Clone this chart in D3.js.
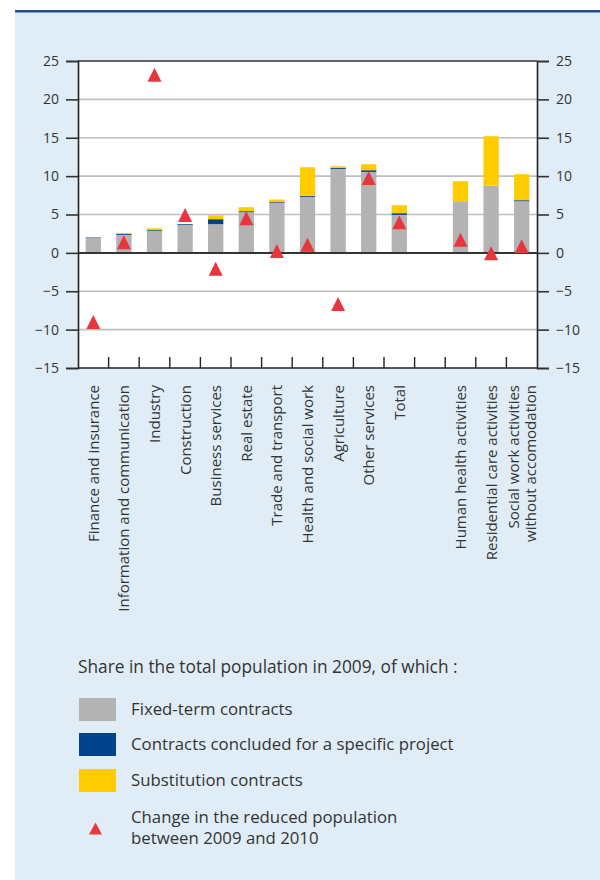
<!DOCTYPE html>
<html><head><meta charset="utf-8">
<script src="https://cdn.jsdelivr.net/npm/d3@7"></script>
<style>
html,body{margin:0;padding:0;background:#fff;}
svg{display:block;font-family:"Open Sans",sans-serif;}
</style></head>
<body>
<svg id="chart" width="600" height="880"></svg>
<script>
// ---- data ----
const categories = ["Finance and insurance","Information and communication","Industry","Construction","Business services","Real estate","Trade and transport","Health and social work","Agriculture","Other services","Total","Human health activities","Residential care activities","Social work activities\nwithout accomodation"];
const fixedTerm    = [2.0, 2.35, 2.87, 3.65, 3.74, 5.3, 6.51, 7.3, 10.94, 10.55, 4.95, 6.73, 8.77, 6.73];
const project      = [0.05, 0.15, 0.1, 0.1, 0.65, 0.13, 0.1, 0.13, 0.13, 0.22, 0.22, 0.0, 0.0, 0.13];
const substitution = [0.0, 0.1, 0.23, 0.0, 0.52, 0.52, 0.34, 3.73, 0.22, 0.78, 1.04, 2.61, 6.43, 3.39];
const change       = [-9.0, 1.4, 23.2, 4.93, -2.08, 4.52, 0.24, 1.05, -6.66, 9.75, 4.0, 1.7, -0.04, 0.85];
const yTicks = [-15, -10, -5, 0, 5, 10, 15, 20, 25];
const seriesNames = ["Fixed-term contracts","Contracts concluded for a specific project","Substitution contracts"];
const markerName = ["Change in the reduced population","between 2009 and 2010"];
const legendTitle = "Share in the total population in 2009, of which :";
const colors = ["#b3b3b3","#00438a","#ffcc00"];
const red = "#e8363d";

// ---- layout ----
const svg = d3.select("#chart");
svg.append("rect").attr("x",15).attr("y",12).attr("width",585).attr("height",868).attr("fill","#e0edf6");
svg.append("rect").attr("x",15).attr("y",10).attr("width",585).attr("height",2.5).attr("fill","#1d4f8c");

const L=78, R=537, T=61, B=368;
const domain = categories.slice(0,11).concat(["__gap__"], categories.slice(11));
const x = d3.scaleBand().domain(domain).range([L,R]).paddingInner(0.5).paddingOuter(0.25);
const y = d3.scaleLinear().domain([-15,25]).range([B,T]);

const g = svg.append("g");
g.append("rect").attr("x",L).attr("y",T).attr("width",R-L).attr("height",B-T).attr("fill","#fff");

// gridlines
g.selectAll("line.grid").data(yTicks.filter(v=>v!==25 && v!==-15 && v!==0)).join("line")
  .attr("class","grid").attr("x1",L).attr("x2",R).attr("y1",d=>y(d)).attr("y2",d=>y(d))
  .attr("stroke","#bfbfbf").attr("stroke-width",1.6);

// stacked bars
const rows = categories.map((c,i)=>({cat:c, vals:[fixedTerm[i],project[i],substitution[i]]}));
rows.forEach(r=>{
  let acc=0;
  r.vals.forEach((v,k)=>{
    if(v<=0) return;
    g.append("rect").attr("x",x(r.cat)).attr("width",x.bandwidth())
      .attr("y",y(acc+v)).attr("height",y(acc)-y(acc+v)).attr("fill",colors[k]);
    acc+=v;
  });
});

// zero line and frame
g.append("line").attr("x1",L).attr("x2",R).attr("y1",y(0)).attr("y2",y(0)).attr("stroke","#333").attr("stroke-width",2);
g.append("line").attr("x1",L).attr("x2",R).attr("y1",T).attr("y2",T).attr("stroke","#333").attr("stroke-width",1.6);
g.append("line").attr("x1",L).attr("x2",R).attr("y1",B).attr("y2",B).attr("stroke","#222").attr("stroke-width",1.6);

// category boundary ticks
const step = x.step();
const bounds = d3.range(1, domain.length).map(i=>L + i*step);
g.selectAll("line.ct").data(bounds).join("line").attr("class","ct")
  .attr("x1",d=>d).attr("x2",d=>d).attr("y1",B).attr("y2",B-11)
  .attr("stroke","#222").attr("stroke-width",1.4);

// y axes
const fmt = d3.format("d");
const axL = svg.append("g").attr("transform",`translate(${L},0)`)
  .call(d3.axisLeft(y).tickValues(yTicks).tickSize(12).tickPadding(7).tickFormat(fmt));
const axR = svg.append("g").attr("transform",`translate(${R},0)`)
  .call(d3.axisRight(y).tickValues(yTicks).tickSize(12).tickPadding(7).tickFormat(fmt));
[axL,axR].forEach(a=>{
  a.select(".domain").attr("stroke","#222").attr("stroke-width",1.6);
  a.selectAll(".tick line").attr("stroke","#333").attr("stroke-width",1.6);
  a.selectAll(".tick text").attr("font-size",14).attr("fill","#333").attr("font-family","Open Sans");
});

// triangles
const tri = (w,h)=>`M0,${-h/2}L${w/2},${h/2}L${-w/2},${h/2}Z`;
g.selectAll("path.tri").data(categories).join("path").attr("class","tri")
  .attr("d",tri(14,14)).attr("fill",red)
  .attr("transform",(c,i)=>`translate(${x(c)+x.bandwidth()/2},${y(change[i])})`);

// x labels
categories.forEach(c=>{
  const lines = c.split("\n");
  const cx = x(c)+x.bandwidth()/2;
  const n = lines.length;
  lines.forEach((ln,j)=>{
    const off = (j-(n-1)/2)*16.7;
    svg.append("text").attr("transform",`translate(${cx+off+5.5},385) rotate(-90)`)
      .attr("text-anchor","end").attr("font-size",15).attr("fill","#333").text(ln);
  });
});

// legend
const fs = 16.8;
svg.append("text").attr("x",78).attr("y",673).attr("font-size",17.3).attr("fill","#333").text(legendTitle);
const ly = [698,733,769];
seriesNames.forEach((s,k)=>{
  svg.append("rect").attr("x",79).attr("y",ly[k]).attr("width",37).attr("height",23).attr("fill",colors[k]);
  svg.append("text").attr("x",131).attr("y",ly[k]+17).attr("font-size",fs).attr("fill","#333").text(s);
});
svg.append("path").attr("d",tri(13,12)).attr("fill",red).attr("transform","translate(95.5,828.5)");
markerName.forEach((t,j)=>{
  svg.append("text").attr("x",131).attr("y",822.5+j*21.5).attr("font-size",fs).attr("fill","#333").text(t);
});
</script>
</body></html>
